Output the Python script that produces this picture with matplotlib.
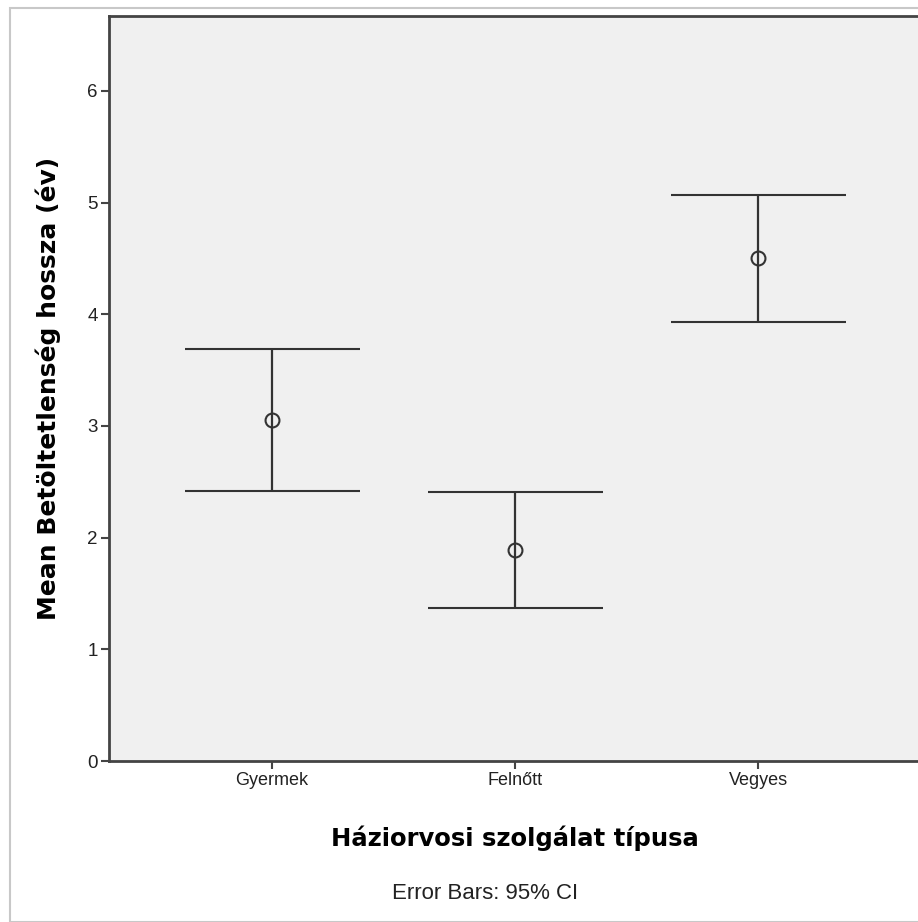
import numpy as np
import matplotlib.pyplot as plt
from matplotlib.patches import Rectangle

# adatok (leolvasva az ábráról)
kategoriak = ['Gyermek', 'Felnőtt', 'Vegyes']
atlag = [3.05, 1.89, 4.50]
also = [2.42, 1.37, 3.93]
felso = [3.69, 2.41, 5.07]
y_ticks = [0, 1, 2, 3, 4, 5, 6]

fig = plt.figure(figsize=(9.18, 9.22), dpi=100)

# külső keret
fig.patches.append(Rectangle((10 / 918, 0), 1.2, 1 - 8 / 922, transform=fig.transFigure,
                             fill=False, edgecolor='#c8c8c8', linewidth=1.5))

ax = fig.add_axes([109 / 918, 1 - 761 / 922, 812 / 918, 745 / 922])
ax.set_facecolor('#f0f0f0')

x = np.arange(1, len(kategoriak) + 1)
yerr = [np.array(atlag) - np.array(also), np.array(felso) - np.array(atlag)]
ax.errorbar(x, atlag, yerr=yerr, fmt='o', markersize=10, markerfacecolor='none',
            markeredgecolor='#333333', markeredgewidth=1.5, ecolor='#333333',
            elinewidth=1.6, capsize=63, capthick=1.6)

ax.set_xlim(0.33, 3.67)
ax.set_ylim(0, 6.67)
ax.set_xticks(x)
ax.set_xticklabels(kategoriak, fontsize=13, family='Liberation Sans', color='#222222')
ax.set_yticks(y_ticks)
ax.set_yticklabels([str(t) for t in y_ticks], fontsize=13.5, family='Liberation Sans', color='#222222')
ax.tick_params(axis='both', length=6, width=1.5, color='#444444', pad=2)

for s in ['left', 'bottom', 'top']:
    ax.spines[s].set_linewidth(2)
    ax.spines[s].set_color('#444444')
ax.spines['right'].set_color('#c8c8c8')

ax.set_xlabel('Háziorvosi szolgálat típusa', fontsize=17.5, fontweight='bold',
              family='DejaVu Sans', va='center')
ax.xaxis.set_label_coords(0.5, (761 - 838) / 745)
ax.set_ylabel('Mean Betöltetlenség hossza (év)', fontsize=18, fontweight='bold',
              family='DejaVu Sans', va='center', ha='center')
ax.yaxis.set_label_coords((48 - 109) / 812, (761 - 388) / 745)

fig.text(485 / 918, 1 - 893 / 922, 'Error Bars: 95% CI', ha='center', va='center',
         fontsize=16, family='Liberation Sans', color='#222222')

fig.savefig('out.png', dpi=100)
